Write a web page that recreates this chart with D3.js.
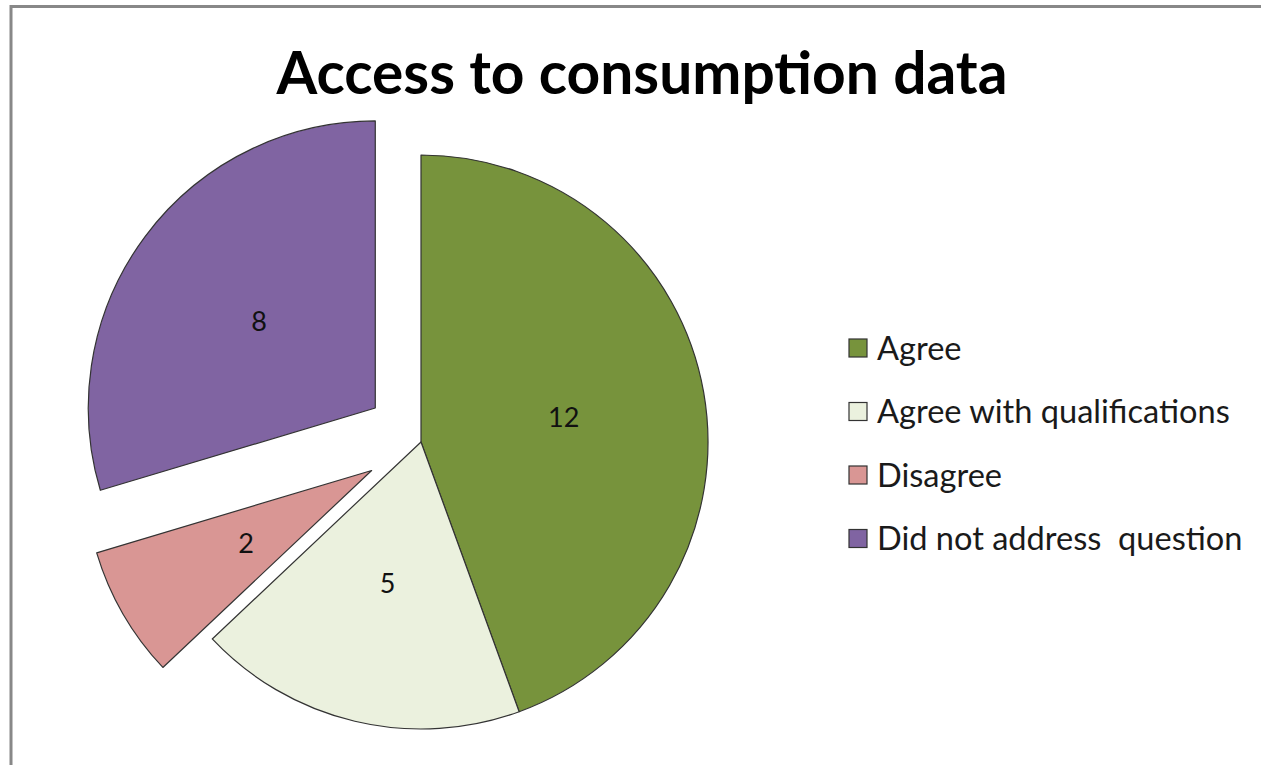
<!DOCTYPE html>
<html><head><meta charset="utf-8">
<script src="https://cdn.jsdelivr.net/npm/d3@7"></script>
<style>body{margin:0;background:#fff}svg{display:block}</style>
</head><body>
<script>
const categories = ["Agree", "Agree with qualifications", "Disagree", "Did not address  question"];
const values = [12, 5, 2, 8];
const colors = ["#77933C", "#EBF1DE", "#D99694", "#8064A2"];
const exploded = [false, false, true, true];
const title = "Access to consumption data";

const W = 1261, H = 765;
const svg = d3.select("body").append("svg").attr("width", W).attr("height", H);
svg.append("rect").attr("x", 11).attr("y", 6.5).attr("width", 1300).attr("height", 800)
  .attr("fill", "#fff").attr("stroke", "#888").attr("stroke-width", 3);

const cx = 421, cy = 442, r = 287, explode = 57;
const pie = d3.pie().sort(null).value(d => d)(values);
const arc = d3.arc().innerRadius(0).outerRadius(r);
const g = svg.append("g").attr("transform", `translate(${cx},${cy})`);
const slices = g.selectAll("g.s").data(pie).join("g").attr("class", "s")
  .attr("transform", (d, i) => {
    if (!exploded[i]) return null;
    const a = (d.startAngle + d.endAngle) / 2;
    return `translate(${Math.sin(a) * explode},${-Math.cos(a) * explode})`;
  });
slices.append("path").attr("d", arc).attr("fill", (d, i) => colors[i])
  .attr("stroke", "#333").attr("stroke-width", 1.2).attr("stroke-linejoin", "round");
const labelArc = d3.arc().innerRadius(r * 0.505).outerRadius(r * 0.505);
slices.append("text").attr("transform", d => `translate(${labelArc.centroid(d)})`)
  .attr("text-anchor", "middle").attr("dy", "0.36em")
  .style("font-family", "Lato, 'Open Sans', sans-serif").style("font-size", "27px").attr("fill", "#111")
  .text(d => d.data);

const t = svg.append("text").attr("x", 642).attr("y", 94).attr("text-anchor", "middle")
  .style("font-family", "Lato, sans-serif").style("font-weight", "bold").style("font-size", "56px")
  .attr("fill", "#000").text(title);
const tw = t.node().getComputedTextLength();
t.style("font-size", (56 * 731 / tw) + "px");

const leg = svg.append("g");
const rows = leg.selectAll("g").data(categories).join("g")
  .attr("transform", (d, i) => `translate(849,${348 + i * 63.5})`);
rows.append("rect").attr("x", 0).attr("y", -9).attr("width", 18).attr("height", 18)
  .attr("fill", (d, i) => colors[i]).attr("stroke", "#333").attr("stroke-width", 1.2);
const lt = rows.append("text").attr("x", 28).attr("dy", "0.36em")
  .style("font-family", "Lato, sans-serif").style("font-size", "27px").style("white-space", "pre")
  .attr("fill", "#1a1a1a")
  .text(d => d);
const w2 = lt.nodes()[1].getComputedTextLength();
lt.style("font-size", (27 * 353 / w2) + "px");
</script>
</body></html>
